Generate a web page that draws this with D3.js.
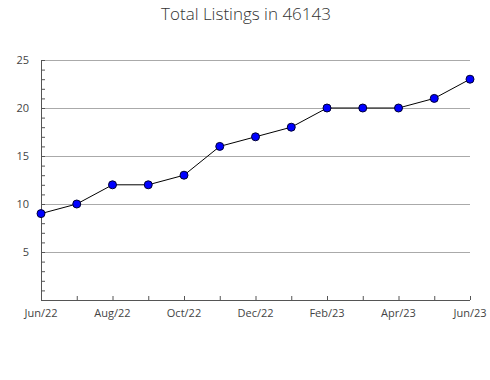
<!DOCTYPE html>
<html lang="en">
<head>
<meta charset="UTF-8">
<title>Total Listings in 46143</title>
<script src="https://cdn.jsdelivr.net/npm/d3@7"></script>
<style>
    body { margin: 0; background: #fff; font-family: 'Open Sans', sans-serif; }
</style>
</head>
<body>
<div id="chart"></div>
<script>
    const months = ["Jun/22","Jul/22","Aug/22","Sep/22","Oct/22","Nov/22","Dec/22","Jan/23","Feb/23","Mar/23","Apr/23","May/23","Jun/23"];
    const listings = [9, 10, 12, 12, 13, 16, 17, 18, 20, 20, 20, 21, 23];
    const yTicks = [5, 10, 15, 20, 25];

    const w = 490, h = 380;
    const padL = 41, padR = 470, padT = 60, padB = 300;

    const svg = d3.select("#chart").append("svg")
        .attr("width", w)
        .attr("height", h);

    svg.append("text")
        .attr("x", w / 2 + 1)
        .attr("y", 20)
        .attr("text-anchor", "middle")
        .style("font-size", "17px")
        .style("font-weight", 300)
        .style("fill", "#333")
        .text("Total Listings in 46143");

    const x = d3.scalePoint().domain(months).range([padL, padR]);
    const y = d3.scaleLinear().domain([0, 25]).range([padB, padT]);

    // gridlines
    svg.append("g")
        .selectAll("line")
        .data(yTicks)
        .enter()
        .append("line")
        .attr("x1", padL)
        .attr("x2", padR)
        .attr("y1", d => Math.round(y(d)) + 0.5)
        .attr("y2", d => Math.round(y(d)) + 0.5)
        .attr("stroke", "#aaa")
        .attr("stroke-width", 1);

    // minor ticks on y axis (every unit, pointing inward)
    const yAxis = d3.axisRight(y).tickValues(d3.range(0, 26)).tickSize(4).tickFormat("");
    svg.append("g")
        .attr("transform", "translate(" + padL + ",0)")
        .call(yAxis)
        .call(g => g.selectAll("line").attr("stroke", "#555"))
        .call(g => g.select(".domain").attr("stroke", "#555").attr("d", "M0.5," + padT + "V" + padB));

    // y labels
    svg.append("g")
        .selectAll("text")
        .data(yTicks)
        .enter()
        .append("text")
        .attr("x", padL - 12)
        .attr("y", d => y(d) + 4)
        .attr("text-anchor", "end")
        .style("font-size", "11px")
        .style("fill", "#444")
        .text(d => d);

    const xAxis = d3.axisTop(x).tickSize(4).tickFormat("");
    svg.append("g")
        .attr("transform", "translate(0," + padB + ")")
        .call(xAxis)
        .call(g => g.selectAll("line").attr("stroke", "#555"))
        .call(g => g.select(".domain").attr("stroke", "#555").attr("d", "M" + padL + ",0.5H" + padR));

    svg.append("g")
        .selectAll("text")
        .data(months.filter((m, i) => i % 2 === 0))
        .enter()
        .append("text")
        .attr("x", d => x(d))
        .attr("y", padB + 17)
        .attr("text-anchor", "middle")
        .style("font-size", "11px")
        .style("fill", "#444")
        .text(d => d);

    const line = d3.line()
        .x((d, i) => x(months[i]))
        .y(d => y(d));

    svg.append("path")
        .datum(listings)
        .attr("d", line)
        .attr("fill", "none")
        .attr("stroke", "#000")
        .attr("stroke-width", 1);

    svg.selectAll("circle")
        .data(listings)
        .enter()
        .append("circle")
        .attr("cx", (d, i) => x(months[i]))
        .attr("cy", d => y(d))
        .attr("r", 4)
        .attr("fill", "#0000ff")
        .attr("stroke", "#000033")
        .attr("stroke-width", 1);
</script>
</body>
</html>
